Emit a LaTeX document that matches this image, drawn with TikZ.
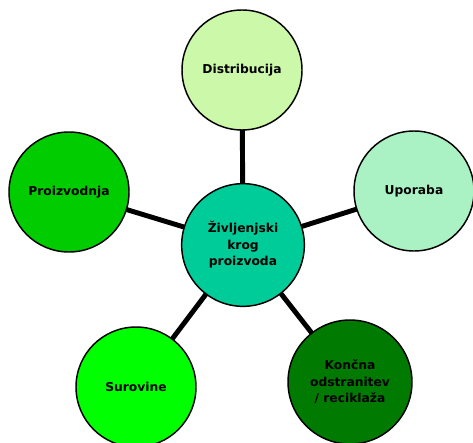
\documentclass[tikz,border=0pt]{standalone}
\usepackage{fontspec}
\setmainfont{DejaVu Sans}
\definecolor{cCenter}{RGB}{0,204,153}
\definecolor{cDist}{RGB}{204,248,170}
\definecolor{cUpor}{RGB}{170,242,196}
\definecolor{cProiz}{RGB}{0,204,0}
\definecolor{cSurov}{RGB}{0,255,0}
\definecolor{cKonc}{RGB}{0,122,0}
\tikzset{
  px/.style={x=0.75pt,y=-0.75pt},
  bubble/.style={circle,draw=black,line width=1.1pt,minimum size=90pt,inner sep=0pt,
    align=center,font=\bfseries\fontsize{9.2pt}{12.4pt}\selectfont},
  link/.style={line width=3.7pt,draw=black}
}
\begin{document}
\begin{tikzpicture}[px]
\useasboundingbox (0,0) rectangle (473,442);
\clip (0,0) rectangle (473,442);
\coordinate (cc) at (243,245);
\coordinate (cd) at (242,70);
\coordinate (cu) at (414,191);
\coordinate (cp) at (69,192);
\coordinate (cs) at (136,387);
\coordinate (ck) at (350,382);
\draw[link] (cc) -- (cd);
\draw[link] (cc) -- (cu);
\draw[link] (cc) -- (cp);
\draw[link] (cc) -- (cs);
\draw[link] (cc) -- (ck);
\node[bubble,fill=cDist] (dist) at (cd) {Distribucija};
\node[bubble,fill=cUpor] (upor) at (cu) {Uporaba};
\node[bubble,fill=cProiz] (proiz) at (cp) {Proizvodnja};
\node[bubble,fill=cSurov] (surov) at (cs) {Surovine};
\node[bubble,fill=cKonc,minimum size=93pt] (konc) at (ck) {Končna\\odstranitev\\/ reciklaža};
\node[bubble,fill=cCenter,minimum size=92pt] (center) at (cc) {Življenjski\\krog\\proizvoda};
\end{tikzpicture}
\end{document}
